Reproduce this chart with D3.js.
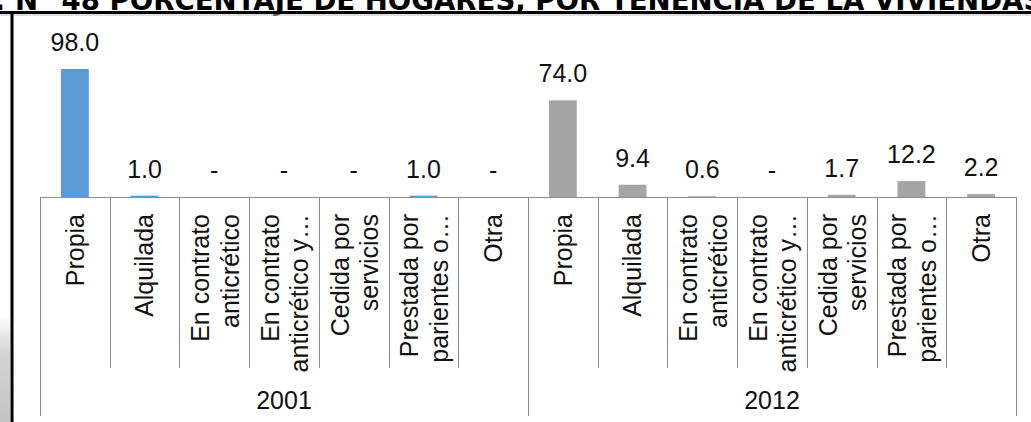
<!DOCTYPE html>
<html>
<head>
<meta charset="utf-8">
<script src="https://cdn.jsdelivr.net/npm/d3@7"></script>
<style>
  body { margin: 0; background: #fff; }
  svg { display: block; }
</style>
</head>
<body>
<div id="chart"></div>
<script>
// chart data
const years = ["2001", "2012"];
const categories = [
    ["Propia"],
    ["Alquilada"],
    ["En contrato", "anticrético"],
    ["En contrato", "anticrético y…"],
    ["Cedida por", "servicios"],
    ["Prestada por", "parientes o…"],
    ["Otra"]
];
const values2001 = [98.0, 1.0, null, null, null, 1.0, null];
const values2012 = [74.0, 9.4, 0.6, null, 1.7, 12.2, 2.2];
const title = "GRÁFICO: N° 48 PORCENTAJE DE HOGARES, POR TENENCIA DE LA VIVIENDAS";

var width = 1031, height = 422;
var baseY = 197;

var svg = d3.select("#chart").append("svg")
    .attr("width", width)
    .attr("height", height);

// gray shadow at the lower left, outside the frame
var grad = svg.append("defs").append("linearGradient")
    .attr("id", "shade").attr("x1", 0).attr("y1", 0).attr("x2", 0).attr("y2", 1);
grad.append("stop").attr("offset", "0%").attr("stop-color", "#fff");
grad.append("stop").attr("offset", "35%").attr("stop-color", "#d4d4d4");
grad.append("stop").attr("offset", "100%").attr("stop-color", "#c4c4c4");
svg.append("rect")
    .attr("x", 0).attr("y", 315).attr("width", 10).attr("height", height - 315)
    .attr("fill", "url(#shade)");

// title, clipped at the top of the picture
var titleText = svg.append("text")
    .attr("y", 10)
    .style("font-family", "'DejaVu Sans', Verdana, sans-serif")
    .style("font-weight", "bold")
    .style("font-size", "27.6px")
    .attr("fill", "#000")
    .text(title);
var offs = titleText.node().getSubStringLength(0, title.indexOf("N°"));
titleText.attr("x", 15 - offs);

// frame lines
svg.append("line")
    .attr("x1", 0).attr("x2", width).attr("y1", 15).attr("y2", 15)
    .attr("stroke", "#bdbdbd").attr("stroke-width", 1);
svg.append("line")
    .attr("x1", 0).attr("x2", width).attr("y1", 12.5).attr("y2", 12.5)
    .attr("stroke", "#000").attr("stroke-width", 3);
svg.append("line")
    .attr("x1", 12).attr("x2", 12).attr("y1", 11).attr("y2", height)
    .attr("stroke", "#000").attr("stroke-width", 3);

// flat list of bars
var rows = [];
years.forEach((yr, gi) => {
    var vals = gi === 0 ? values2001 : values2012;
    categories.forEach((c, ci) => {
        rows.push({ year: yr, cat: c, value: vals[ci], idx: gi * categories.length + ci });
    });
});

var x = d3.scaleBand()
    .domain(d3.range(rows.length))
    .range([40, 1016])
    .paddingInner(0.6)
    .paddingOuter(0.3);

var y = d3.scaleLinear()
    .domain([0, 100])
    .range([baseY, 66.4]);

var color = d3.scaleOrdinal()
    .domain(years)
    .range(["#5b9bd5", "#a5a5a5"]);

var step = x.step();
var left = x.range()[0];
var gridColor = "#8c8c8c";

// bars
svg.append("g")
    .selectAll("rect")
    .data(rows.filter(d => d.value !== null))
    .enter().append("rect")
    .attr("x", d => x(d.idx))
    .attr("width", x.bandwidth())
    .attr("y", d => y(d.value))
    .attr("height", d => baseY - y(d.value))
    .attr("fill", d => color(d.year));

// value labels
svg.append("g")
    .selectAll("text")
    .data(rows)
    .enter().append("text")
    .attr("x", d => x(d.idx) + x.bandwidth() / 2)
    .attr("y", d => y(d.value === null ? 0 : d.value) - 18)
    .attr("text-anchor", "middle")
    .style("font-family", "'Liberation Sans', Arial, sans-serif")
    .style("font-size", "25px")
    .attr("fill", "#111")
    .text(d => d.value === null ? "-" : d3.format(".1f")(d.value));

// axis line
svg.append("line")
    .attr("x1", left).attr("x2", x.range()[1])
    .attr("y1", baseY + 0.5).attr("y2", baseY + 0.5)
    .attr("stroke", gridColor);

// category dividers, taller at group edges
var edges = d3.range(rows.length + 1);
svg.append("g")
    .selectAll("line")
    .data(edges)
    .enter().append("line")
    .attr("x1", i => Math.round(left + i * step) + 0.5)
    .attr("x2", i => Math.round(left + i * step) + 0.5)
    .attr("y1", baseY)
    .attr("y2", i => i % categories.length === 0 ? 416 : 368)
    .attr("stroke", gridColor);

// rotated category labels
var catLabels = svg.append("g")
    .selectAll("g")
    .data(rows)
    .enter().append("g")
    .attr("transform", d => `translate(${x(d.idx) + x.bandwidth() / 2}, 214) rotate(-90)`);

catLabels.append("text")
    .attr("text-anchor", "end")
    .style("font-family", "'Liberation Sans', Arial, sans-serif")
    .style("font-size", "25px")
    .attr("fill", "#111")
    .each(function (d) {
        var t = d3.select(this);
        d.cat.forEach((line, li) => {
            t.append("tspan")
                .attr("x", 0)
                .attr("dy", d.cat.length === 1 ? "0.35em" : (li === 0 ? "-0.2em" : "1.18em"))
                .text(line);
        });
    });

// year labels
svg.append("g")
    .selectAll("text")
    .data(years)
    .enter().append("text")
    .attr("x", (d, i) => left + (i + 0.5) * categories.length * step)
    .attr("y", 409)
    .attr("text-anchor", "middle")
    .style("font-family", "'Liberation Sans', Arial, sans-serif")
    .style("font-size", "25px")
    .attr("fill", "#111")
    .text(d => d);
</script>
</body>
</html>
